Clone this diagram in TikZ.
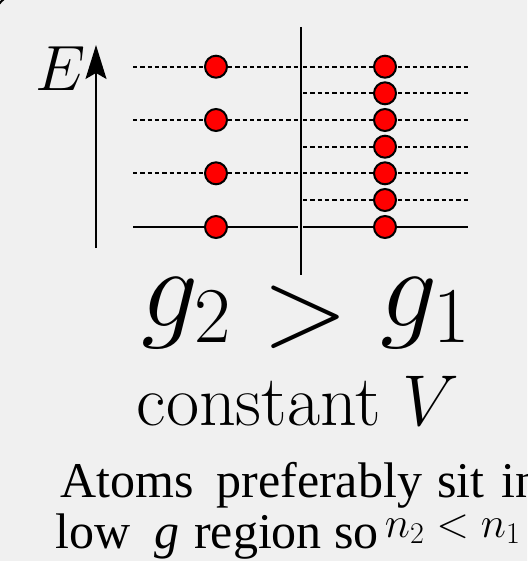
\RequirePackage{fix-cm}
\documentclass[tikz,border=0pt]{standalone}
\usepackage{fontspec}
\newfontfamily\timesfont{Liberation Serif}
\usetikzlibrary{arrows.meta}
\definecolor{bgray}{HTML}{F0F0F0}
\tikzset{
  level/.style={line width=1.7pt, dash pattern=on 4.3pt off 3pt},
  ground/.style={line width=1.5pt},
  atom/.style={circle, fill=red, draw=black, line width=2pt, minimum size=22pt, inner sep=0pt},
  note/.style={anchor=base west, inner sep=0pt, font=\timesfont\fontsize{50}{50}\selectfont},
}
\begin{document}
\begin{tikzpicture}[x=1pt,y=-1pt]
\useasboundingbox (0,0) rectangle (527,561);
\clip (0,0) rectangle (527,561);
\fill[white] (0,0) rectangle (527,561);
\draw[line width=2pt, fill=bgray, rounded corners=25pt] (-6,-6) rectangle (620,580);
% energy axis
\coordinate (ebot) at (96,248);
\coordinate (etop) at (96,45);
\draw[line width=1.5pt, -{Stealth[length=34pt,width=21pt,inset=6pt]}] (ebot) -- (etop);
\node[anchor=base, font=\fontsize{64}{64}\selectfont] (E) at (61,91) {$E$};
% divider
\coordinate (dtop) at (301,27);
\coordinate (dbot) at (301,275);
\draw[line width=1.5pt] (dtop) -- (dbot);
% left levels
\foreach \y/\n in {66.7/a,120/b,173.3/c}{
  \coordinate (L\n) at (133,\y); \coordinate (M\n) at (298,\y);
  \draw[level] (L\n) -- (M\n);
}
\coordinate (Ld) at (133,227); \coordinate (Md) at (298,227);
\draw[ground] (Ld) -- (Md);
% right levels
\foreach \y/\n in {66.7/a,93.3/b,120/c,146.7/d,173.3/e,200/f}{
  \coordinate (R\n) at (303,\y); \coordinate (S\n) at (468,\y);
  \draw[level] (R\n) -- (S\n);
}
\coordinate (Rg) at (303,227); \coordinate (Sg) at (468,227);
\draw[ground] (Rg) -- (Sg);
% atoms
\foreach \y/\n in {66.7/1,120/2,173.3/3,227/4}{
  \node[atom] (la\n) at (216,\y) {};
}
\foreach \y/\n in {66.7/1,93.3/2,120/3,146.7/4,173.3/5,200/6,227/7}{
  \node[atom] (ra\n) at (385,\y) {};
}
% labels
\node[anchor=base, font=\fontsize{113}{113}\selectfont] (gg) at (306,326)
  {$g_2 \mathrel{\raisebox{-19pt}{$>$}} g_1$};
\node[anchor=base, font=\fontsize{72}{72}\selectfont] (cv) at (298,425) {constant $V$};
\node[note] (t1) at (60,497) {Atoms\hspace{23pt}preferably\hspace{15pt}sit\hspace{17pt}in};
\node[note] (t2) at (55,548) {low\hspace{24pt}\textit{g}\hspace{15pt}region so\hspace{6pt}\raisebox{11pt}{\fontsize{43}{43}\selectfont$n_2<n_1$}};
\end{tikzpicture}
\end{document}
